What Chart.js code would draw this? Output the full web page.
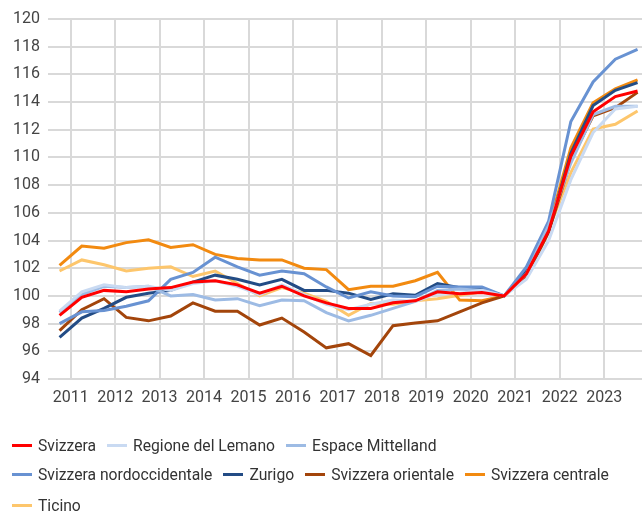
<!DOCTYPE html>
<html><head><meta charset="utf-8">
<script src="https://cdn.jsdelivr.net/npm/chart.js@4.4.1/dist/chart.umd.min.js"></script>
<style>
html,body{margin:0;padding:0;background:#fff;}
#wrap{width:642px;height:516px;position:relative;overflow:hidden;}
#c{position:absolute;left:0;top:0;}
#legend{position:absolute;left:0;top:0;width:642px;height:516px;pointer-events:none;font-family:Roboto,"Noto Sans",sans-serif;font-size:15.7px;color:#333;}
.row{position:absolute;left:12px;display:flex;align-items:center;height:20px;white-space:nowrap;}
.item{display:flex;align-items:center;margin-right:11px;}
.mk{display:inline-block;width:20px;height:3px;margin-right:6px;}
</style>
</head><body>
<div id="wrap"><canvas id="c" width="642" height="516"></canvas><div id="legend"></div></div>
<script>
// half-year periods (2010 H2 ... 2023 H2), position on the year axis
const periods = [2010.75, 2011.25, 2011.75, 2012.25, 2012.75, 2013.25, 2013.75, 2014.25, 2014.75,
  2015.25, 2015.75, 2016.25, 2016.75, 2017.25, 2017.75, 2018.25, 2018.75, 2019.25, 2019.75,
  2020.25, 2020.75, 2021.25, 2021.75, 2022.25, 2022.75, 2023.25, 2023.75];
const yearTicks = [2011, 2012, 2013, 2014, 2015, 2016, 2017, 2018, 2019, 2020, 2021, 2022, 2023];
const yTicks = [94, 96, 98, 100, 102, 104, 106, 108, 110, 112, 114, 116, 118, 120];

const seriesNames = ["Svizzera", "Regione del Lemano", "Espace Mittelland", "Svizzera nordoccidentale",
  "Zurigo", "Svizzera orientale", "Svizzera centrale", "Ticino"];
const seriesColors = ["#ff0000", "#c9daf2", "#9dbbe4", "#6892d2", "#234c85", "#a3450b", "#f28a10", "#fdc66c"];

const svizzera = [98.6, 99.9, 100.4, 100.3, 100.5, 100.6, 101.0, 101.1, 100.8, 100.2, 100.7, 100.0, 99.5,
  99.1, 99.1, 99.5, 99.65, 100.3, 100.15, 100.25, 100.0, 101.6, 104.7, 110.1, 113.3, 114.4, 114.8];
const lemano = [98.9, 100.3, 100.8, 100.6, 100.7, 100.4, 100.9, 101.1, 100.7, 100.1, 100.8, 100.1, 99.4,
  99.0, 99.4, 99.7, 99.6, 100.2, 100.2, 100.4, 100.0, 101.2, 104.0, 108.4, 111.8, 113.5, 113.7];
const mittelland = [98.8, 100.1, 100.7, 100.6, 100.7, 100.0, 100.1, 99.7, 99.8, 99.3, 99.7, 99.65, 98.8,
  98.2, 98.6, 99.1, 99.6, 100.4, 100.5, 100.4, 100.0, 101.6, 105.1, 109.6, 113.1, 113.7, 113.7];
const nordoccidentale = [98.0, 98.85, 98.95, 99.25, 99.65, 101.2, 101.7, 102.8, 102.1, 101.5, 101.8, 101.6, 100.65,
  99.85, 100.3, 100.0, 99.95, 100.7, 100.65, 100.65, 100.0, 102.1, 105.4, 112.6, 115.45, 117.1, 117.8];
const zurigo = [97.0, 98.4, 99.1, 99.9, 100.2, 100.4, 101.0, 101.5, 101.2, 100.8, 101.2, 100.4, 100.4,
  100.2, 99.75, 100.15, 100.05, 100.9, 100.6, 100.5, 100.0, 101.8, 104.7, 110.3, 113.75, 114.85, 115.4];
const orientale = [97.5, 99.0, 99.8, 98.45, 98.2, 98.55, 99.5, 98.9, 98.9, 97.9, 98.4, 97.4, 96.25,
  96.55, 95.7, 97.85, 98.05, 98.2, 98.85, 99.5, 100.0, 101.4, 104.6, 109.8, 113.0, 113.6, 114.7];
const centrale = [102.2, 103.6, 103.45, 103.85, 104.05, 103.5, 103.7, 103.0, 102.7, 102.6, 102.6, 102.0, 101.9,
  100.45, 100.7, 100.7, 101.1, 101.7, 99.7, 99.65, 100.0, 101.6, 104.95, 110.7, 113.95, 114.95, 115.6];
const ticino = [101.8, 102.6, 102.25, 101.8, 102.0, 102.1, 101.4, 101.8, 100.9, 100.0, 100.6, 100.2, 99.6,
  98.6, 99.45, 99.4, 99.65, 99.8, 100.05, 100.3, 100.0, 101.7, 104.8, 108.9, 112.05, 112.4, 113.35];

const allSeries = [svizzera, lemano, mittelland, nordoccidentale, zurigo, orientale, centrale, ticino];

const datasets = allSeries.map((vals, k) => ({
  label: seriesNames[k],
  data: vals.map((v, i) => ({x: periods[i], y: v})),
  borderColor: seriesColors[k],
  backgroundColor: seriesColors[k],
  borderWidth: 3,
  pointRadius: 0,
  tension: 0,
  fill: false
}));

const tickFont = {family: 'Roboto, "Noto Sans", sans-serif', size: 16};

new Chart(document.getElementById('c'), {
  type: 'line',
  data: {datasets},
  options: {
    responsive: false,
    animation: false,
    devicePixelRatio: 1,
    layout: {padding: {top: 19, left: 0, right: 0, bottom: 93}},
    plugins: {legend: {display: false}, tooltip: {enabled: false}},
    scales: {
      x: {
        type: 'linear',
        min: 2010.49,
        max: 2023.85,
        afterBuildTicks: (s) => { s.ticks = yearTicks.map(v => ({value: v})); },
        afterFit: (s) => { s.height = 44; },
        grid: {color: '#d9d9d9', lineWidth: 2, drawTicks: false},
        border: {display: false},
        ticks: {font: tickFont, color: '#444', padding: 9, autoSkip: false, maxRotation: 0,
          callback: (v) => String(v)}
      },
      y: {
        min: 94,
        max: 120,
        afterBuildTicks: (s) => { s.ticks = yTicks.map(v => ({value: v})); },
        afterFit: (s) => { s.width = 48; },
        grid: {color: '#d9d9d9', lineWidth: 2, drawTicks: false},
        border: {display: false},
        ticks: {font: tickFont, color: '#444', padding: 8}
      }
    }
  }
});

// legend (rows as in the reference)
const rows = [[0, 1, 2], [3, 4, 5, 6], [7]];
const rowCenters = [445, 474.5, 505];
const lg = document.getElementById('legend');
rows.forEach((r, ri) => {
  const row = document.createElement('div');
  row.className = 'row';
  row.style.top = (rowCenters[ri] - 10) + 'px';
  r.forEach(k => {
    const it = document.createElement('span');
    it.className = 'item';
    const mk = document.createElement('span');
    mk.className = 'mk';
    mk.style.background = seriesColors[k];
    const tx = document.createElement('span');
    tx.textContent = seriesNames[k];
    it.appendChild(mk); it.appendChild(tx);
    row.appendChild(it);
  });
  lg.appendChild(row);
});
</script>
</body></html>
